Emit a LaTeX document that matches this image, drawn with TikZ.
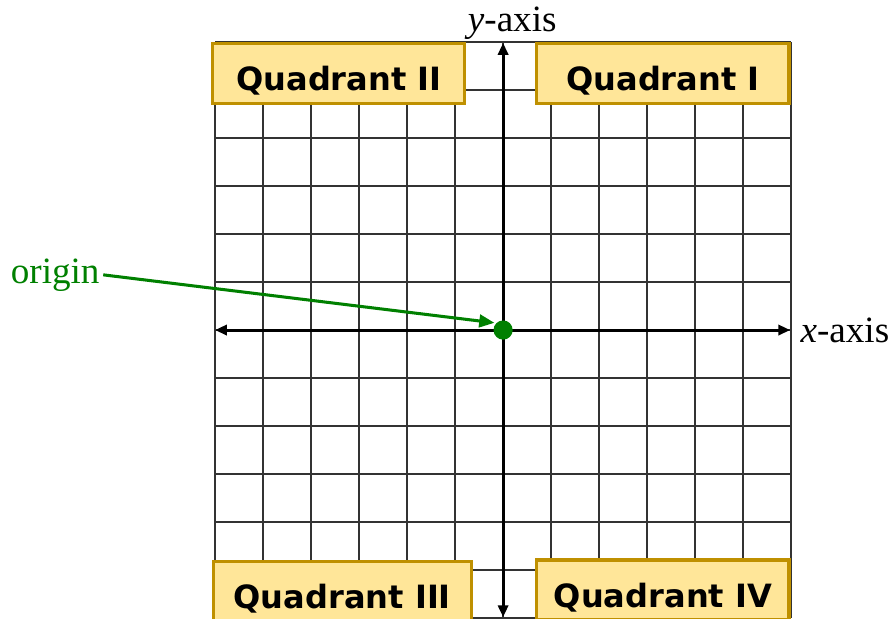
\documentclass[tikz,border=0pt]{standalone}
\usepackage{fontspec}
\setmainfont{Liberation Serif}
\newfontfamily\quadfont{DejaVu Sans}
\usetikzlibrary{arrows.meta}
\definecolor{quadfill}{HTML}{FFE699}
\definecolor{quadline}{HTML}{BF9000}
\definecolor{origingreen}{HTML}{008000}

\begin{document}
\begin{tikzpicture}[
  quadrant/.style={
    rectangle,
    draw=quadline,
    fill=quadfill,
    line width=1.8pt,
    minimum width=5.25cm,
    minimum height=1.25cm,
    text height=0.81cm,
    text depth=0.1cm,
    inner sep=0pt,
    font=\quadfont\bfseries\fontsize{19}{23}\selectfont
  },
  gridline/.style={black!80, line width=0.9pt},
  axis/.style={
    line width=1.8pt,
    {Triangle[length=7pt,width=6pt]}-{Triangle[length=7pt,width=6pt]}
  },
  axislabel/.style={font=\fontsize{22}{26}\selectfont, inner sep=2pt},
  pointer/.style={
    origingreen,
    line width=1.8pt,
    -{Triangle[length=9pt,width=7.5pt]},
    shorten >=1pt
  },
  originpt/.style={circle, fill=origingreen, minimum size=0.4cm, inner sep=0pt}
]
  \clip (-10.48,-6) rectangle (8.08,6.875);

  \draw[gridline] (-6,-6) grid (6,6);

  \node[quadrant] (q2) at (-3.42,5.35) {Quadrant II};
  \node[quadrant] (q1) at (3.33,5.35) {Quadrant I};
  \node[quadrant, minimum width=5.38cm] (q3) at (-3.35,-5.45) {Quadrant III};
  \node[quadrant] (q4) at (3.33,-5.415) {Quadrant IV};

  \coordinate (xleft) at (-6,0);
  \coordinate (xright) at (5.98,0);
  \coordinate (ytop) at (0,5.98);
  \coordinate (ybottom) at (0,-5.98);
  \draw[axis] (xleft) -- (xright);
  \draw[axis] (ybottom) -- (ytop);

  \node[axislabel, right=0.14cm] (xlabel) at (xright) {\textit{x}-axis};
  \node[axislabel, above, xshift=0.19cm] (ylabel) at (ytop) {\textit{y}-axis};

  \node[originpt] (O) at (0,0) {};
  \node[axislabel, text=origingreen, anchor=east] (originlabel) at (-8.33,1.15) {origin};
  \draw[pointer] (originlabel.east) -- (O.north west);
\end{tikzpicture}
\end{document}
